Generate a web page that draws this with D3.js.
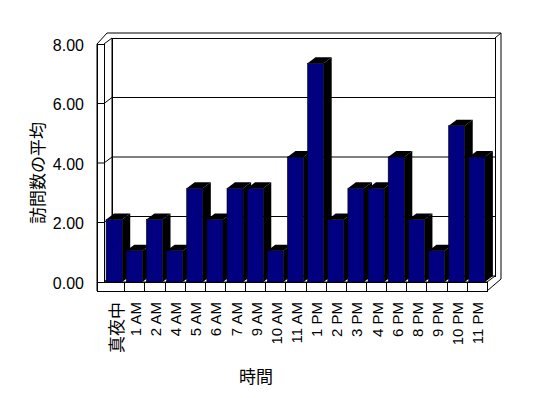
<!DOCTYPE html>
<html>
<head>
<meta charset="utf-8">
<script src="https://cdn.jsdelivr.net/npm/d3@7"></script>
<style>
  body { margin: 0; background: #fff; }
  svg { display: block; }
</style>
</head>
<body>
<div id="chart"></div>
<script>
// -----------------------
// Data
// -----------------------
const categories = ["真夜中", "1 AM", "2 AM", "4 AM", "5 AM", "6 AM", "7 AM", "9 AM", "10 AM",
  "11 AM", "1 PM", "2 PM", "3 PM", "4 PM", "6 PM", "8 PM", "9 PM", "10 PM", "11 PM"];
const visits = [2, 1, 2, 1, 3, 2, 3, 3, 1, 4, 7, 2, 3, 3, 4, 2, 1, 5, 4];
const yTicks = [0, 2, 4, 6, 8];
const yTitle = "訪問数の平均";
const xTitle = "時間";

// -----------------------
// Layout
// -----------------------
const width = 548, height = 398;
const plotL = 104, plotR = 487, baseY = 282, topY = 44;
const dx = 8, dy = -6;      // depth of the 3D box
const wall = 7;             // left wall thickness
const floorH = 9;           // floor thickness
const latin = "'Liberation Sans', Arial, sans-serif";
const cjk = "'Noto Sans CJK JP', sans-serif";

const svg = d3.select("#chart")
  .append("svg")
  .attr("width", width)
  .attr("height", height);

const x = d3.scaleBand()
  .domain(categories)
  .range([plotL, plotR])
  .paddingInner(0.2)
  .paddingOuter(0.105);

const yFront = d3.scaleLinear().domain([0, 8]).range([baseY, topY]);
const yBack = d3.scaleLinear().domain([0, 8]).range([baseY + dy, topY + dy]);
// bars sit a bit taller than the wall scale in the original 3D projection
const yBar = d3.scaleLinear().domain([0, 8]).range([baseY, baseY - 250]);

const poly = pts => "M" + pts.map(p => p.join(",")).join("L") + "Z";
const path = pts => "M" + pts.map(p => p.join(",")).join("L");

const frame = svg.append("g")
  .attr("fill", "#fff")
  .attr("stroke", "#000")
  .attr("stroke-width", 1)
  .attr("shape-rendering", "crispEdges");

// outer outline of walls and floor
const outer = [
  [plotL - wall, topY], [plotL + dx - 5, topY + dy - 5], [plotR + dx + 6, topY + dy - 5],
  [plotR + dx + 6, baseY + dy + 3], [plotR, baseY + floorH], [plotL - wall, baseY + floorH]
];
frame.append("path").attr("d", poly(outer)).attr("shape-rendering", "auto");

// back wall
frame.append("rect")
  .attr("x", plotL + dx).attr("y", topY + dy)
  .attr("width", plotR - plotL).attr("height", baseY - topY);
frame.append("path").attr("shape-rendering", "auto")
  .attr("d", path([[plotR + dx, topY + dy], [plotR + dx + 6, topY + dy - 5]]));

// left wall inner face
frame.append("path").attr("shape-rendering", "auto")
  .attr("d", poly([[plotL, topY], [plotL + dx, topY + dy], [plotL + dx, baseY + dy], [plotL, baseY]]));

// floor top
frame.append("path").attr("shape-rendering", "auto")
  .attr("d", poly([[plotL, baseY], [plotL + dx, baseY + dy], [plotR + dx, baseY + dy], [plotR, baseY]]));

// left wall front + floor front
frame.append("rect")
  .attr("x", plotL - wall).attr("y", topY)
  .attr("width", wall).attr("height", baseY + floorH - topY);
frame.append("rect")
  .attr("x", plotL - wall).attr("y", baseY)
  .attr("width", plotR - plotL + wall).attr("height", floorH);

// gridlines
const grid = yTicks.filter(v => v > 0 && v < 8);
frame.selectAll(".grid")
  .data(grid)
  .join("path")
  .attr("class", "grid")
  .attr("fill", "none")
  .attr("shape-rendering", "auto")
  .attr("d", v => path([
    [plotL - wall, yFront(v)], [plotL, yFront(v)],
    [plotL + dx, yBack(v)], [plotR + dx, yBack(v)]
  ]));

// category ticks on the floor front
const step = x.step();
frame.selectAll(".ctick")
  .data(categories.slice(0, -1))
  .join("line")
  .attr("class", "ctick")
  .attr("x1", d => Math.round(x(d) + x.bandwidth() + step * 0.1))
  .attr("x2", d => Math.round(x(d) + x.bandwidth() + step * 0.1))
  .attr("y1", baseY)
  .attr("y2", baseY + floorH);

// -----------------------
// Bars
// -----------------------
const bars = svg.append("g");
categories.forEach((c, i) => {
  const x0 = x(c), x1 = x0 + x.bandwidth(), yt = yBar(visits[i]);
  const g = bars.append("g");
  g.append("path")
    .attr("d", poly([[x1, yt], [x1 + dx, yt + dy], [x1 + dx, baseY + dy], [x1, baseY]]))
    .attr("fill", "#000");
  g.append("path")
    .attr("d", poly([[x0, yt], [x0 + dx, yt + dy], [x1 + dx, yt + dy], [x1, yt]]))
    .attr("fill", "#000");
  g.append("rect")
    .attr("x", x0).attr("y", yt)
    .attr("width", x.bandwidth()).attr("height", baseY - yt)
    .attr("fill", "#000080")
    .attr("stroke", "#000")
    .attr("stroke-width", 0.6);
});

// -----------------------
// Labels
// -----------------------
svg.selectAll(".ylabel")
  .data(yTicks)
  .join("text")
  .attr("class", "ylabel")
  .attr("x", 84)
  .attr("y", d => yFront(d) + 1)
  .attr("text-anchor", "end")
  .attr("dominant-baseline", "central")
  .attr("fill", "#000")
  .attr("font-family", latin)
  .attr("font-size", 16)
  .text(d => d.toFixed(2));

const isCjk = s => /[^\x00-\x7F]/.test(s);
svg.selectAll(".xlabel")
  .data(categories)
  .join("text")
  .attr("class", "xlabel")
  .attr("transform", d => `translate(${x(d) + x.bandwidth() / 2 + 1},302) rotate(-90)`)
  .attr("text-anchor", "end")
  .attr("dominant-baseline", "central")
  .attr("fill", "#000")
  .attr("font-family", d => isCjk(d) ? cjk : latin)
  .attr("font-size", d => isCjk(d) ? 17 : 15)
  .text(d => d);

svg.append("text")
  .attr("transform", "translate(36,173) rotate(-90)")
  .attr("text-anchor", "middle")
  .attr("dominant-baseline", "central")
  .attr("fill", "#000")
  .attr("font-family", cjk)
  .attr("font-size", 17)
  .text(yTitle);

svg.append("text")
  .attr("x", 256)
  .attr("y", 375)
  .attr("text-anchor", "middle")
  .attr("dominant-baseline", "central")
  .attr("fill", "#000")
  .attr("font-family", cjk)
  .attr("font-size", 17)
  .text(xTitle);
</script>
</body>
</html>
